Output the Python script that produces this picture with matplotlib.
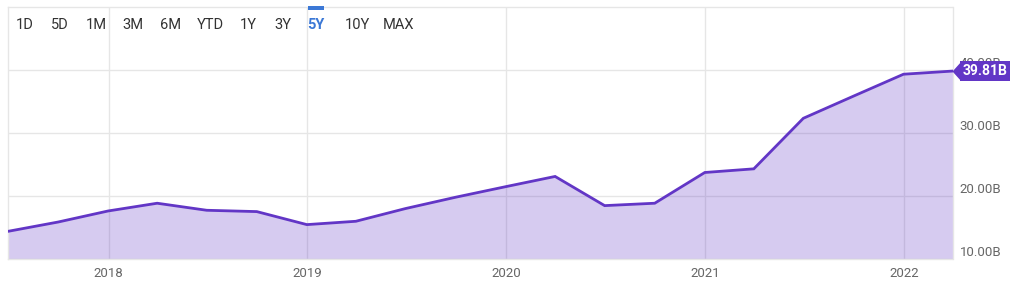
import matplotlib
matplotlib.use("Agg")
import matplotlib.pyplot as plt
import numpy as np
import pandas as pd
from matplotlib.path import Path
from matplotlib.patches import Rectangle

# quarterly values, billions
quarters = [
    "2017-06-30", "2017-09-30", "2017-12-31",
    "2018-03-31", "2018-06-30", "2018-09-30", "2018-12-31",
    "2019-03-31", "2019-06-30", "2019-09-30", "2019-12-31",
    "2020-03-31", "2020-06-30", "2020-09-30", "2020-12-31",
    "2021-03-31", "2021-06-30", "2021-09-30", "2021-12-31",
    "2022-03-31",
]
values = [
    14.32, 15.80, 17.56,
    18.79, 17.67, 17.46, 15.39,
    15.92, 17.94, 19.74, 21.42,
    23.05, 18.41, 18.79, 23.68,
    24.26, 32.30, 35.82, 39.31,
    39.81,
]
y_ticks = [10, 20, 30, 40]
y_tick_labels = ["10.00B", "20.00B", "30.00B", "40.00B"]
year_ticks = ["2018-01-01", "2019-01-01", "2020-01-01", "2021-01-01", "2022-01-01"]
year_labels = ["2018", "2019", "2020", "2021", "2022"]
ranges = ["1D", "5D", "1M", "3M", "6M", "YTD", "1Y", "3Y", "5Y", "10Y", "MAX"]
active_range = "5Y"

colors = {
    "line": "#6236c6",
    "grid": "#e6e6e6",
    "tick": "#666666",
    "button": "#333333",
    "active": "#3b78d6",
}

plt.rcParams["font.family"] = ["Roboto", "DejaVu Sans"]

W, H = 1024, 287
fig = plt.figure(figsize=(W / 100, H / 100), dpi=100)
left, right, top, bottom = 8, 952.5, 7, 258.5
ax = fig.add_axes([left / W, 1 - bottom / H, (right - left) / W, (bottom - top) / H])

dates = pd.to_datetime(quarters)
ax.fill_between(dates, values, 10, color=colors["line"], alpha=0.26, lw=0, zorder=2)
ax.plot(dates, values, color=colors["line"], lw=2, zorder=3, solid_joinstyle="miter")

ax.set_xlim(dates[0], dates[-1])
ax.set_ylim(10, 50)

ax.set_yticks(y_ticks)
ax.set_yticklabels(y_tick_labels)
ax.yaxis.tick_right()
ax.tick_params(axis="y", length=0, pad=5, labelsize=9.5, labelcolor=colors["tick"])
for lbl in ax.get_yticklabels():
    lbl.set_verticalalignment("bottom")

ax.set_xticks(pd.to_datetime(year_ticks))
ax.set_xticklabels(year_labels)
ax.tick_params(axis="x", length=0, pad=6, labelsize=9.5, labelcolor=colors["tick"])

ax.grid(True, color=colors["grid"], lw=1, zorder=1)
ax.set_axisbelow(True)
for sp in ax.spines.values():
    sp.set_color(colors["grid"])
    sp.set_linewidth(1)

# price badge at the last point
last_d, last_v = dates[-1], values[-1]
tri = Path([(0, 0), (0.9, -1), (0.9, 1), (0, 0)],
           [Path.MOVETO, Path.LINETO, Path.LINETO, Path.CLOSEPOLY])
ax.plot([last_d], [last_v], marker=tri, markersize=12, color=colors["line"],
        mec="none", clip_on=False, zorder=5)
ax.annotate(f"{last_v:.2f}B", xy=(last_d, last_v), xytext=(10, 0),
            textcoords="offset pixels", ha="left", va="center",
            fontsize=10, fontweight="bold", color="white", zorder=6,
            bbox=dict(boxstyle="square,pad=0.2", fc=colors["line"], ec="none"),
            annotation_clip=False)

# range buttons
btn_x = [25, 60, 96, 133, 171, 210, 248, 283, 316, 357, 398]
for name, bx in zip(ranges, btn_x):
    active = name == active_range
    fig.text(bx / W, 1 - 25 / H, name, ha="center", va="center", fontsize=10.5,
             color=colors["active"] if active else colors["button"],
             fontweight="bold" if active else "normal")
    if active:
        fig.patches.append(Rectangle(((bx - 8) / W, 1 - 9.5 / H), 16 / W, 3.5 / H,
                                     transform=fig.transFigure, fc=colors["active"],
                                     ec="none"))

fig.savefig("out.png", dpi=100)
